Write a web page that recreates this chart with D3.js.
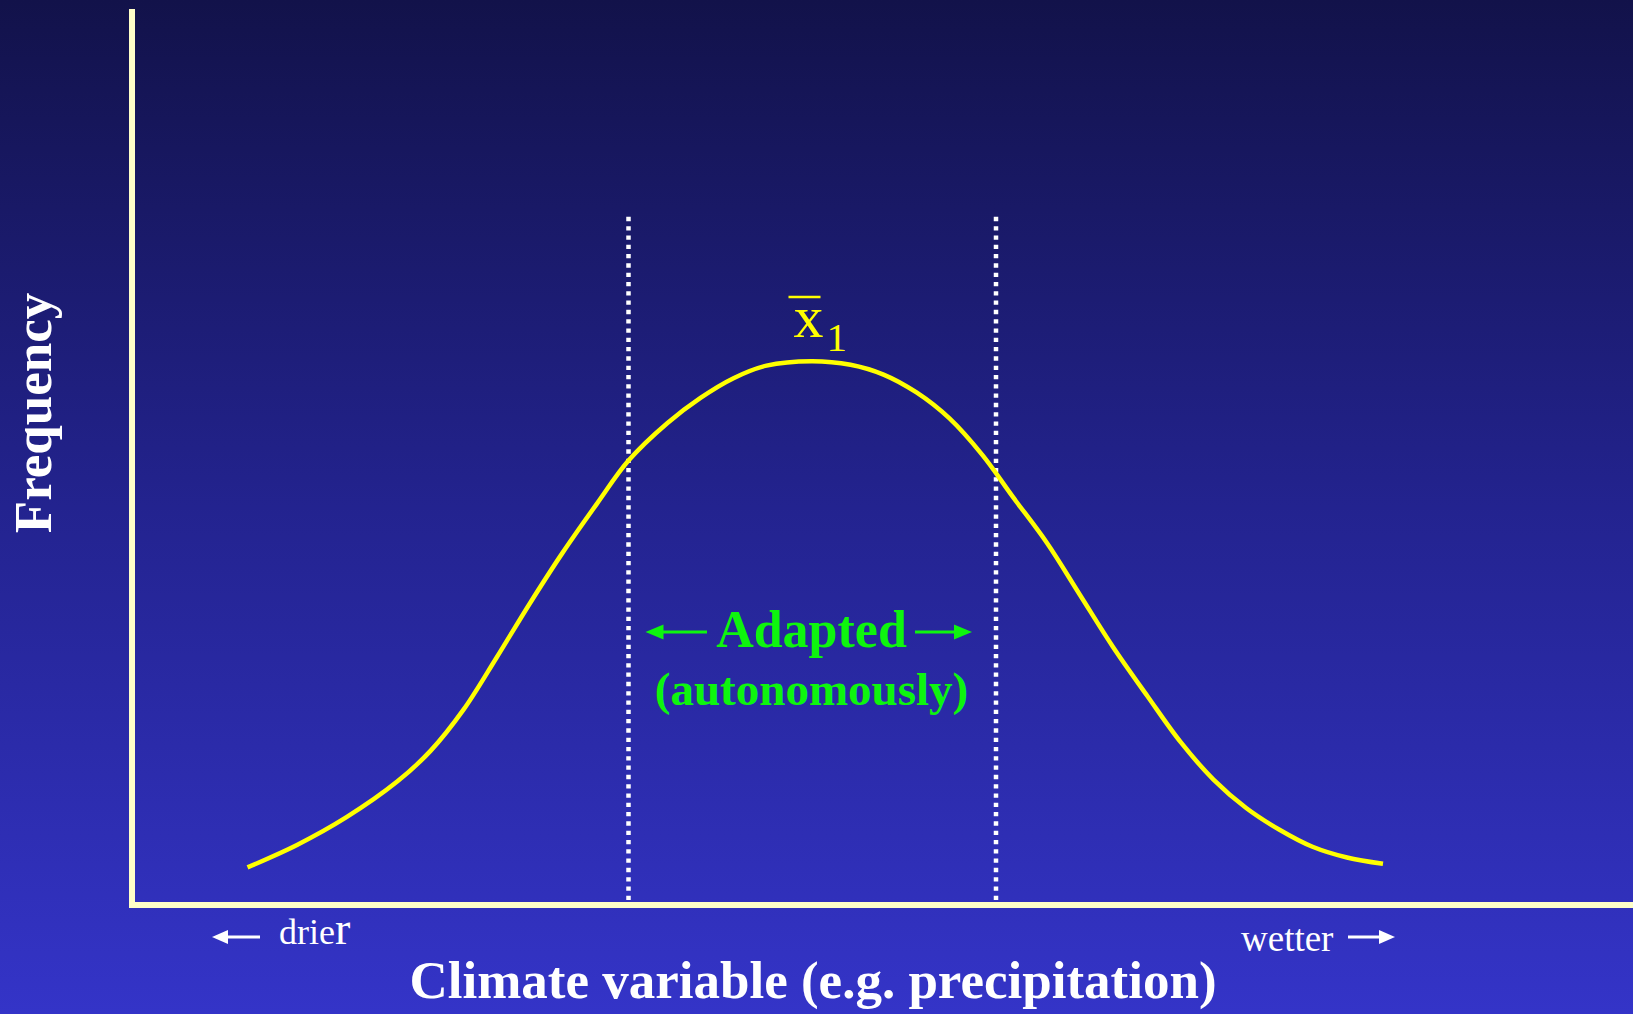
<!DOCTYPE html>
<html>
<head>
<meta charset="utf-8">
<script src="https://cdn.jsdelivr.net/npm/d3@7"></script>
<style>
  html, body { margin: 0; padding: 0; background: #1a1a60; overflow: hidden; }
  svg { display: block; }
</style>
</head>
<body>
<svg id="chart" width="1633" height="1014"></svg>
<script>
// Climate variable (x) and frequency (y) of the distribution curve, in chart units
const climateValues = [7.7, 11.0, 14.3, 17.7, 19.9, 22.1, 24.3, 26.5, 28.7, 31.0, 33.1, 35.7,
  37.9, 40.1, 42.3, 45.3, 47.9, 50.1, 52.3, 54.5, 56.7, 58.7, 61.0, 63.2, 65.4, 67.7,
  69.9, 72.1, 74.3, 76.5, 78.7, 81.0, 83.4];
const frequencyValues = [4.2, 6.7, 9.8, 13.8, 17.2, 21.8, 27.6, 33.6, 39.3, 44.8, 49.6, 53.8,
  56.6, 58.8, 60.2, 60.7, 60.3, 59.2, 57.2, 54.3, 50.2, 45.6, 40.4, 34.6, 28.8, 23.3,
  18.2, 14.0, 10.8, 8.4, 6.5, 5.3, 4.6];

// Bounds of the autonomously adapted range and the mean
const adaptedBounds = [33.1, 57.6];
const adaptedTop = 76.8;
const meanValue = 45.3;

// Labels
const yTitle = "Frequency";
const xTitle = "Climate variable (e.g. precipitation)";
const lowLabel = "drie";
const lowLabelEnd = "r";
const highLabel = "wetter";
const adaptedLabel = "Adapted";
const adaptedSub = "(autonomously)";

const W = 1633, H = 1014;
const svg = d3.select("#chart");
const serif = "Liberation Serif, Times New Roman, serif";

// Background gradient
const defs = svg.append("defs");
const grad = defs.append("linearGradient").attr("id", "bg")
  .attr("x1", 0).attr("y1", 0).attr("x2", 0).attr("y2", 1);
grad.append("stop").attr("offset", "0%").attr("stop-color", "#12124a");
grad.append("stop").attr("offset", "50%").attr("stop-color", "#23238f");
grad.append("stop").attr("offset", "100%").attr("stop-color", "#3434c8");
svg.append("rect").attr("width", W).attr("height", H).attr("fill", "url(#bg)");

// Scales
const x = d3.scaleLinear().domain([0, 100]).range([132, 1632]);
const y = d3.scaleLinear().domain([0, 100]).range([905, 9]);

// Adapted band bounds (dotted)
svg.append("g").selectAll("line").data(adaptedBounds).join("line")
  .attr("x1", d => x(d)).attr("x2", d => x(d))
  .attr("y1", y(adaptedTop)).attr("y2", y(0) - 3)
  .attr("stroke", "#ffffff").attr("stroke-width", 4.5)
  .attr("stroke-dasharray", "4.3,5");

// Distribution curve
const pts = climateValues.map((v, i) => [v, frequencyValues[i]]);
const line = d3.line().x(d => x(d[0])).y(d => y(d[1])).curve(d3.curveCatmullRom.alpha(0.5));
svg.append("path").datum(pts)
  .attr("d", line)
  .attr("fill", "none")
  .attr("stroke", "#ffff00")
  .attr("stroke-width", 4.5);

// Axes: plain lines, no ticks
const axisColor = "#ffffc8";
const gx = svg.append("g").attr("transform", `translate(0,${y(0)})`)
  .call(d3.axisBottom(x).tickValues([]).tickSizeOuter(0));
gx.select(".domain").attr("d", `M${x(0) - 3},0H${W}`)
  .attr("stroke", axisColor).attr("stroke-width", 6);
const gy = svg.append("g").attr("transform", `translate(${x(0)},0)`)
  .call(d3.axisLeft(y).tickValues([]).tickSizeOuter(0));
gy.select(".domain").attr("d", `M0,${y(0) + 3}V${y(100)}`)
  .attr("stroke", axisColor).attr("stroke-width", 6);

// Axis titles
svg.append("text")
  .attr("transform", "translate(51,413) rotate(-90)")
  .attr("text-anchor", "middle")
  .attr("font-family", serif)
  .attr("font-weight", "bold").attr("font-size", 53)
  .attr("fill", "#ffffff").text(yTitle);

svg.append("text")
  .attr("x", 813).attr("y", 998)
  .attr("text-anchor", "middle")
  .attr("font-family", serif)
  .attr("font-weight", "bold").attr("font-size", 53)
  .attr("fill", "#ffffff").text(xTitle);

// Direction hints
function arrow(g, x0, x1, yy, color, width, headLen, headHalf) {
  const dir = Math.sign(x1 - x0);
  g.append("line")
    .attr("x1", x0).attr("x2", x1 - dir * headLen * 0.8)
    .attr("y1", yy).attr("y2", yy)
    .attr("stroke", color).attr("stroke-width", width);
  g.append("path")
    .attr("d", `M${x1},${yy}L${x1 - dir * headLen},${yy - headHalf}L${x1 - dir * headLen},${yy + headHalf}Z`)
    .attr("fill", color);
}
const hints = svg.append("g");
arrow(hints, 260, 212, 937, "#ffffff", 3, 16, 7);
arrow(hints, 1348, 1395, 937, "#ffffff", 3, 16, 7);

const low = hints.append("text")
  .attr("x", 279).attr("y", 944)
  .attr("font-family", serif)
  .attr("font-size", 36).attr("fill", "#ffffff");
low.append("tspan").text(lowLabel);
low.append("tspan").attr("font-size", 46).text(lowLabelEnd);

hints.append("text")
  .attr("x", 1241).attr("y", 951)
  .attr("font-family", serif)
  .attr("font-size", 37).attr("fill", "#ffffff").text(highLabel);

// Adapted range annotation
const green = "#0ef50e";
const mid = x(meanValue);
const ann = svg.append("g");
arrow(ann, 707, x(adaptedBounds[0]) + 17, 632, green, 3, 18, 7.5);
arrow(ann, 915, x(adaptedBounds[1]) - 24, 632, green, 3, 18, 7.5);
ann.append("text")
  .attr("x", mid).attr("y", 647).attr("text-anchor", "middle")
  .attr("font-family", serif)
  .attr("font-weight", "bold").attr("font-size", 52)
  .attr("fill", green).text(adaptedLabel);
ann.append("text")
  .attr("x", mid).attr("y", 705).attr("text-anchor", "middle")
  .attr("font-family", serif)
  .attr("font-weight", "bold").attr("font-size", 47)
  .attr("fill", green).text(adaptedSub);

// Mean label: x-bar with subscript 1
const meanG = svg.append("g");
meanG.append("text")
  .attr("x", mid - 18).attr("y", 337)
  .attr("font-family", serif)
  .attr("font-size", 60).attr("fill", "#ffff00").text("x");
meanG.append("line")
  .attr("x1", mid - 23).attr("x2", mid + 9)
  .attr("y1", 297).attr("y2", 297)
  .attr("stroke", "#ffff00").attr("stroke-width", 2.5);
meanG.append("text")
  .attr("x", mid + 15).attr("y", 351)
  .attr("font-family", serif)
  .attr("font-size", 41).attr("fill", "#ffff00").text("1");
</script>
</body>
</html>
